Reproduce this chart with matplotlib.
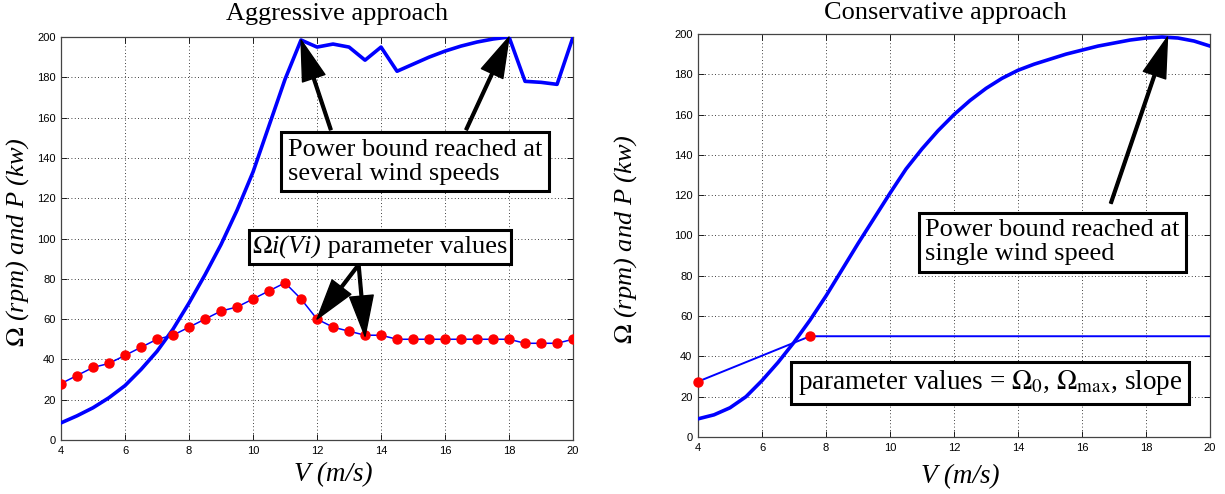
import numpy as np
import matplotlib
matplotlib.use('Agg')
import matplotlib.pyplot as plt
from matplotlib.offsetbox import TextArea, HPacker, AnnotationBbox

plt.rcParams['font.family'] = ['Liberation Serif', 'DejaVu Serif']
plt.rcParams['mathtext.fontset'] = 'stix'

# wind speed grid (m/s)
v = [4, 4.5, 5, 5.5, 6, 6.5, 7, 7.5, 8, 8.5, 9, 9.5, 10, 10.5, 11, 11.5,
     12, 12.5, 13, 13.5, 14, 14.5, 15, 15.5, 16, 16.5, 17, 17.5, 18, 18.5,
     19, 19.5, 20]

# aggressive approach
omega_aggr = [28, 32, 36, 38, 42, 46, 50, 52, 56, 60, 64, 66, 70, 74, 78, 70,
              60, 56, 54, 52, 52, 50, 50, 50, 50, 50, 50, 50, 50, 48,
              48, 48, 50]
power_aggr = [8.5, 12, 16, 21, 27, 35, 44, 55, 68, 82, 97, 114, 133, 156, 179, 198.5,
              195, 196.5, 195, 188.5, 195, 183, 186.5, 190, 193, 195.5, 197.5, 199, 200, 178,
              177.5, 176.5, 200]

# conservative approach
power_cons = [9, 11, 14.5, 20, 28, 37, 47, 58, 70, 83, 96, 108.5, 121, 133, 143, 152,
              160, 167, 173, 178, 182, 185, 187.5, 190, 192, 194, 195.5, 197, 198, 198.5,
              198, 196.5, 194]
omega_cons_v = [4, 7.5, 20]
omega_cons = [27.5, 50, 50]
param_v = [4, 7.5]
param_omega = [27.5, 50]

xticks = list(range(4, 21, 2))
yticks = list(range(0, 201, 20))

fig = plt.figure(figsize=(12.25, 4.94), dpi=100)
ax1 = fig.add_axes([0.0498, 0.1093, 0.418, 0.8158])
ax2 = fig.add_axes([0.5698, 0.1154, 0.418, 0.8158])

for ax in (ax1, ax2):
    ax.set_xlim(4, 20)
    ax.set_ylim(0, 200)
    ax.set_xticks(xticks)
    ax.set_yticks(yticks)
    ax.tick_params(direction='in', top=True, right=True, length=4, width=0.6,
                   labelsize=8, pad=4)
    for lab in ax.get_xticklabels() + ax.get_yticklabels():
        lab.set_family('Liberation Sans')
    ax.grid(True, color='black', linestyle=(0, (1, 3)), linewidth=0.6)
    for s in ax.spines.values():
        s.set_linewidth(0.9)
        s.set_color('#444444')
    ax.set_ylabel(r'$\Omega$ (rpm) and P (kw)', fontsize=19, fontstyle='italic', va='center')
    ax.set_xlabel('V (m/s)', fontsize=19.5, fontstyle='italic', va='center')

ax1.yaxis.set_label_coords(-0.085, 0.49)
ax1.xaxis.set_label_coords(0.531, -0.087)
ax2.yaxis.set_label_coords(-0.142, 0.49)
ax2.xaxis.set_label_coords(0.513, -0.099)

ax1.text(0.539, 1.057, 'Aggressive approach', transform=ax1.transAxes,
         ha='center', va='center', fontsize=19)
ax2.text(0.484, 1.052, 'Conservative approach', transform=ax2.transAxes,
         ha='center', va='center', fontsize=19)

# left panel
ax1.plot(v, power_aggr, color='blue', linewidth=2.6, zorder=3)
ax1.plot(v, omega_aggr, color='blue', linewidth=1.1, marker='o', markersize=6.5,
         markerfacecolor='red', markeredgecolor='red', zorder=4)

arrow = dict(facecolor='black', edgecolor='black', width=2, headwidth=17,
             headlength=29, shrink=0)
box = dict(boxstyle='square,pad=0.25', facecolor='white', edgecolor='black', linewidth=2.2)

ax1.text(15.07, 138, 'Power bound reached at\nseveral wind speeds', fontsize=19,
         ha='center', va='center', bbox=box, zorder=6, linespacing=1.1,
         multialignment='left')
ax1.annotate('', xy=(11.5, 198.5), xytext=(12.43, 154), arrowprops=arrow, zorder=5)
ax1.annotate('', xy=(18, 200), xytext=(16.66, 154), arrowprops=arrow, zorder=5)

ax1.annotate('', xy=(12, 60), xytext=(13.3, 87), arrowprops=arrow, zorder=5)
ax1.annotate('', xy=(13.5, 51.5), xytext=(13.3, 87), arrowprops=arrow, zorder=5)
label_parts = HPacker(children=[
    TextArea(r'$\Omega$i(Vi)', textprops=dict(fontsize=19, fontstyle='italic')),
    TextArea(' parameter values', textprops=dict(fontsize=19))],
    align='baseline', pad=0, sep=0)
ab = AnnotationBbox(label_parts, (13.97, 95.75), xycoords='data', box_alignment=(0.5, 0.5),
                    pad=0.25, bboxprops=dict(boxstyle='square,pad=0.25', facecolor='white',
                                             edgecolor='black', linewidth=2.2))
ab.set_zorder(6)
ax1.add_artist(ab)

# right panel
ax2.plot(v, power_cons, color='blue', linewidth=2.6, zorder=3)
ax2.plot(omega_cons_v, omega_cons, color='blue', linewidth=1.4, zorder=3)
ax2.plot(param_v, param_omega, linestyle='none', marker='o', markersize=6.5,
         color='red', zorder=4, clip_on=False)

ax2.text(15.08, 96.7, 'Power bound reached at\nsingle wind speed', fontsize=19,
         ha='center', va='center', bbox=box, zorder=6, linespacing=1.1,
         multialignment='left')
ax2.annotate('', xy=(18.67, 198.5), xytext=(16.9, 116), arrowprops=arrow, zorder=5)

ax2.text(13.13, 26.8, r'parameter values = $\Omega_0$, $\Omega_{\rm max}$, slope',
         fontsize=19.5, ha='center', va='center', bbox=box, zorder=6)

fig.savefig('out.png', dpi=100)
